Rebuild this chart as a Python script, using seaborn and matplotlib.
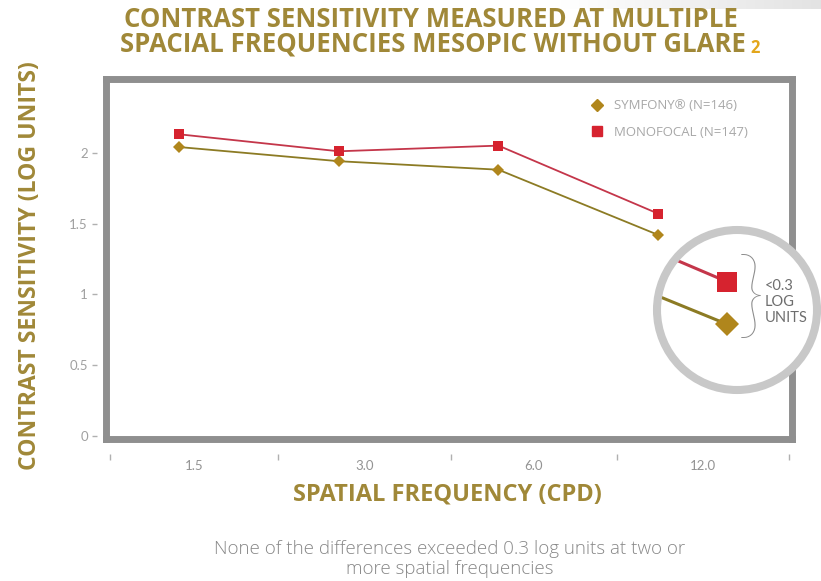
import numpy as np
import pandas as pd
import matplotlib
matplotlib.use("Agg")
import matplotlib.pyplot as plt
from matplotlib.lines import Line2D
from matplotlib.patches import Circle
import seaborn as sns

# ---- data -------------------------------------------------------------
freq_labels = ["1.5", "3.0", "6.0", "12.0"]
symfony_cs = [2.04, 1.94, 1.88, 1.42]
monofocal_cs = [2.13, 2.01, 2.05, 1.57]
series_names = ["SYMFONY\u00ae (N=146)", "MONOFOCAL (N=147)"]
y_ticks = [0, 0.5, 1, 1.5, 2]
y_tick_labels = ["0", "0.5", "1", "1.5", "2"]

title_lines = ["CONTRAST SENSITIVITY MEASURED AT MULTIPLE",
               "SPACIAL FREQUENCIES MESOPIC WITHOUT GLARE"]
footnote_mark = "2"
x_title = "SPATIAL FREQUENCY (CPD)"
y_title = "CONTRAST SENSITIVITY (LOG UNITS)"
note = ("None of the differences exceeded 0.3 log units at two or\n"
        "more spatial frequencies")
callout_text = "<0.3\nLOG\nUNITS"

df = pd.DataFrame({
    "pos": list(range(len(freq_labels))) * 2,
    "cs": symfony_cs + monofocal_cs,
    "lens": [series_names[0]] * 4 + [series_names[1]] * 4,
})

# ---- style ------------------------------------------------------------
sns.set_theme(style="white")
plt.rcParams["font.family"] = ["Lato", "DejaVu Sans"]
HEAD_FONT = ["Open Sans", "DejaVu Sans"]

GOLD_TXT = "#A08838"
GOLD_LINE = "#8C7B24"
GOLD_MK = "#B0861C"
RED_LINE = "#C4364A"
RED_MK = "#D6232F"
FRAME = "#8F8F8F"
TICK_TXT = "#A0A0A0"

W, H = 821, 581
fig = plt.figure(figsize=(W / 100, H / 100), dpi=100)
fig.patch.set_facecolor("white")
fx = lambda px: px / W
fy = lambda py: 1 - py / H

# faint grey band along the top edge, fading out to the left
band = fig.add_axes([fx(560), fy(9), fx(261), 9 / H], zorder=-1)
g = np.linspace(1.0, 0.89, 256)
band.imshow(np.dstack([g, g, g]).reshape(1, 256, 3),
            aspect="auto", extent=[0, 1, 0, 1])
band.set_axis_off()

# ---- main axes --------------------------------------------------------
ax = fig.add_axes([fx(106), fy(439), fx(792) - fx(106), (439 - 79) / H])
styles = {
    series_names[0]: dict(color=GOLD_LINE, marker="D", mfc=GOLD_MK, ms=6.0),
    series_names[1]: dict(color=RED_LINE, marker="s", mfc=RED_MK, ms=7.0),
}
for name in series_names:
    st = styles[name]
    sns.lineplot(data=df[df["lens"] == name], x="pos", y="cs", ax=ax,
                 color=st["color"], marker=st["marker"], markersize=st["ms"],
                 markerfacecolor=st["mfc"], markeredgewidth=0, linewidth=1.3,
                 legend=False, zorder=3)

ax.set_xlim(-0.457, 3.838)
ax.set_ylim(-0.02, 2.52)
ax.set_xlabel("")
ax.set_ylabel("")

# category boundaries on the x axis; labels sit between them
edges = [-0.432, 0.620, 1.703, 2.742, 3.820]
mids = [(a + b) / 2 for a, b in zip(edges[:-1], edges[1:])]
ax.set_xticks(mids, labels=freq_labels)
ax.tick_params(axis="x", length=0, pad=15, labelsize=9.5, labelcolor="#939393")
ax.set_yticks(y_ticks)
ax.tick_params(axis="y", left=False, labelleft=False)

for s in ax.spines.values():
    s.set_linewidth(5)
    s.set_color(FRAME)
    s.set_capstyle("projecting")

sec_y = ax.secondary_yaxis(-0.0131)
sec_y.set_yticks(y_ticks, labels=y_tick_labels)
sec_y.spines["left"].set_visible(False)
sec_y.tick_params(length=3.6, width=1.0, color="#B0B0B0", labelcolor=TICK_TXT,
                  labelsize=9.5, pad=3)

sec_x = ax.secondary_xaxis(-0.05)
sec_x.set_xticks(edges, labels=[""] * len(edges))
sec_x.spines["bottom"].set_visible(False)
sec_x.tick_params(direction="inout", length=5, width=1.0, color="#B0B0B0")

# legend
handles = [Line2D([], [], ls="none", marker="D", ms=6, mfc=GOLD_MK, mec=GOLD_MK),
           Line2D([], [], ls="none", marker="s", ms=6.5, mfc=RED_MK, mec=RED_MK)]
ax.legend(handles, series_names, loc="center left", frameon=False,
          bbox_to_anchor=(fx(580), fy(119)), bbox_transform=fig.transFigure,
          handlelength=0.8, handletextpad=0.85, labelspacing=1.0,
          prop={"family": HEAD_FONT, "size": 9.5}, labelcolor="#A8A8A8")

# ---- magnifier --------------------------------------------------------
cx, cy = 7.37, (H - 310) / 100
ring = Circle((cx, cy), 0.80, transform=fig.dpi_scale_trans,
              facecolor="white", edgecolor="#C8C8C8", lw=5.8, zorder=3)
fig.add_artist(ring)

ins = fig.add_axes([fx(657), fy(389), 160 / W, 160 / H], zorder=4)
ins.patch.set_alpha(0)
for name in series_names:
    st = styles[name]
    sns.lineplot(data=df[df["lens"] == name], x="pos", y="cs", ax=ins,
                 color=st["color"], marker=st["marker"], markersize=st["ms"] * 2,
                 markerfacecolor=st["mfc"], markeredgewidth=0, linewidth=2.2,
                 legend=False)
ins.set_xlim(2.781, 3.282)
ins.set_ylim(1.191, 1.756)
ins.set_axis_off()
clip = Circle((cx, cy), 0.76, transform=fig.dpi_scale_trans)
for ln in ins.lines:
    ln.set_clip_path(clip)

fig.text(fx(751), fy(300), "}", fontsize=70, color="#8C8C8C", ha="center",
         va="center", fontweight="light", zorder=5)
fig.text(fx(765), fy(302), callout_text, fontsize=10.5, color="#6E6E6E",
         ha="left", va="center", linespacing=1.15, zorder=5)

# ---- titles and notes -------------------------------------------------
t1 = fig.text(fx(431), fy(27), title_lines[0], ha="center", va="baseline",
              fontsize=18.5, fontweight="bold", color=GOLD_TXT, family=HEAD_FONT)
t2 = fig.text(fx(433), fy(52), title_lines[1], ha="center", va="baseline",
              fontsize=18.5, fontweight="bold", color=GOLD_TXT, family=HEAD_FONT)
fig.canvas.draw()
bb = t2.get_window_extent(fig.canvas.get_renderer())
fig.text((bb.x1 + 4) / W, fy(53), footnote_mark, ha="left", va="baseline",
         fontsize=12, fontweight="bold", color="#E3A61B", family=HEAD_FONT)

fig.text(fx(447), fy(494), x_title, ha="center", va="center",
         fontsize=17, fontweight="bold", color=GOLD_TXT, family=HEAD_FONT)
fig.text(fx(30), fy(266), y_title, ha="center", va="center", rotation=90,
         fontsize=16.6, fontweight="bold", color=GOLD_TXT, family=HEAD_FONT)
fig.text(fx(450), fy(559), note, ha="center", va="center",
         fontsize=13.5, color="#888888", linespacing=1.1, family=HEAD_FONT,
         fontweight="light")

fig.savefig("out.png", dpi=100)
